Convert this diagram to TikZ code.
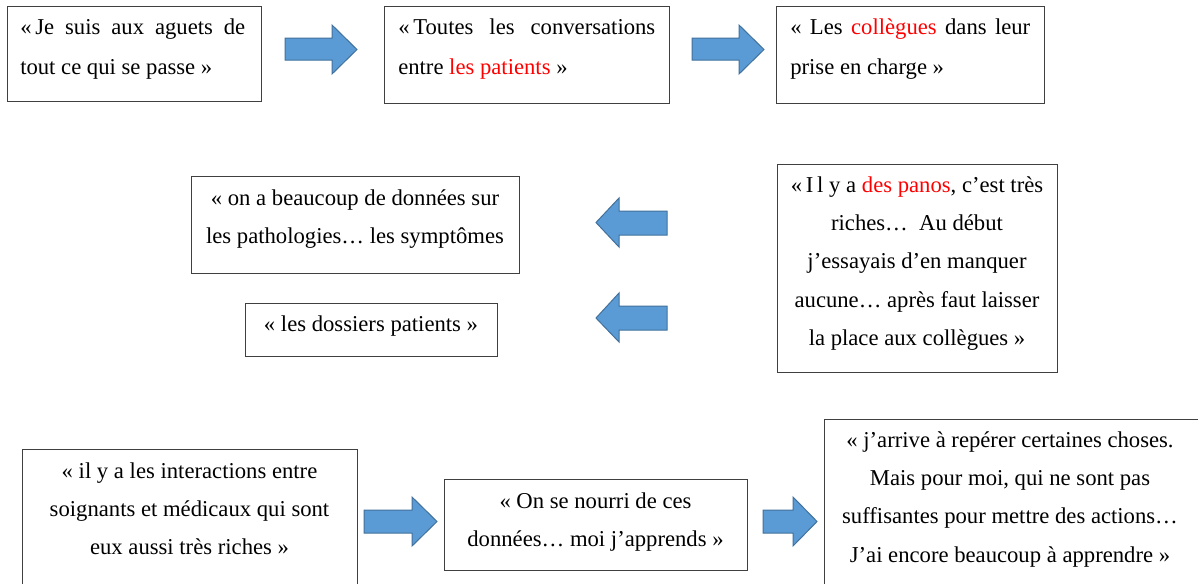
\documentclass[tikz,border=0pt]{standalone}
\usepackage{fontspec}
\setmainfont{Liberation Serif}
\newdimen\px \px=0.75pt
\definecolor{arrowfill}{HTML}{5B9BD5}
\definecolor{arrowline}{HTML}{41719C}
\definecolor{boxline}{HTML}{404040}
\begin{document}
\begin{tikzpicture}[x=0.75pt,y=-0.75pt,
  box/.style={draw=boxline, line width=0.75pt, anchor=north west, inner sep=0pt, fill=white},
  txtj/.style={inner sep=0pt, anchor=base west, align=justify, font=\fontsize{17}{30}\selectfont},
  txtc/.style={inner sep=0pt, anchor=base, align=flush center, text width=380\px, font=\fontsize{17}{28.8}\selectfont},
  blockarrow/.style={fill=arrowfill, draw=arrowline, line width=0.75pt, line join=miter}]
\clip (0,0) rectangle (1198,583);
\fill[white] (0,0) rectangle (1198,583);

% boxes
\node[box, minimum width=254\px, minimum height=95\px] (b1) at (7,6) {};
\node[box, minimum width=285\px, minimum height=97\px] (b2) at (384,6) {};
\node[box, minimum width=268\px, minimum height=97\px] (b3) at (776,6) {};
\node[box, minimum width=328\px, minimum height=97\px] (b4) at (191,176) {};
\node[box, minimum width=252\px, minimum height=53\px] (b5) at (245,303) {};
\node[box, minimum width=280\px, minimum height=208\px] (b6) at (777,164) {};
\node[box, minimum width=335\px, minimum height=160\px] (b7) at (22,449) {};
\node[box, minimum width=303\px, minimum height=91\px] (b8) at (444,479) {};
\node[box, minimum width=390\px, minimum height=190\px] (b9) at (824,419) {};

% texts
\node[txtj, text width=225\px] (t1) at (20,34) {\tolerance=9999\relax «\,Je suis aux aguets de\linebreak tout ce qui se passe »};
\node[txtj, text width=257\px] (t2) at (398,34) {\tolerance=9999\relax «\,Toutes les conversations\linebreak entre \textcolor{red}{les patients} »};
\node[txtj, text width=240\px] (t3) at (790,34) {\tolerance=9999\relax « Les \textcolor{red}{collègues} dans leur\linebreak prise en charge »};

\node[txtc] (t4) at (355,205) {« on a beaucoup de données sur\\les pathologies… les symptômes};
\node[txtc] (t5) at (371,331) {« les dossiers patients »};
\node[txtc] (t6) at (917,192) {«\,I\,l y a \textcolor{red}{des panos}, c’est très\\riches…\ \ Au début\\j’essayais d’en manquer\\aucune… après faut laisser\\la place aux collègues »};
\node[txtc] (t7) at (189.5,478) {« il y a les interactions entre\\soignants et médicaux qui sont\\eux aussi très riches »};
\node[txtc] (t8) at (595.5,508) {« On se nourri de ces\\données… moi j’apprends »};
\node[txtc] (t9) at (1010,447) {« j’arrive à repérer certaines choses.\\Mais pour moi, qui ne sont pas\\suffisantes pour mettre des actions…\\J’ai encore beaucoup à apprendre »};

% block arrows (right)
\draw[blockarrow] (285,38) -- (332,38) -- (332,25) -- (357,49.5) -- (332,74) -- (332,60) -- (285,60) -- cycle;
\draw[blockarrow] (692,38) -- (739,38) -- (739,25) -- (764,49.5) -- (739,74) -- (739,60) -- (692,60) -- cycle;
\draw[blockarrow] (364,510) -- (412,510) -- (412,497) -- (437,521.5) -- (412,546) -- (412,533) -- (364,533) -- cycle;
\draw[blockarrow] (763,510) -- (793,510) -- (793,497) -- (817,521.5) -- (793,546) -- (793,533) -- (763,533) -- cycle;
% block arrows (left)
\draw[blockarrow] (667,211) -- (619,211) -- (619,198) -- (596,222.5) -- (619,247) -- (619,235) -- (667,235) -- cycle;
\draw[blockarrow] (667,306) -- (619,306) -- (619,293) -- (596,318) -- (619,342) -- (619,330) -- (667,330) -- cycle;
\end{tikzpicture}
\end{document}
